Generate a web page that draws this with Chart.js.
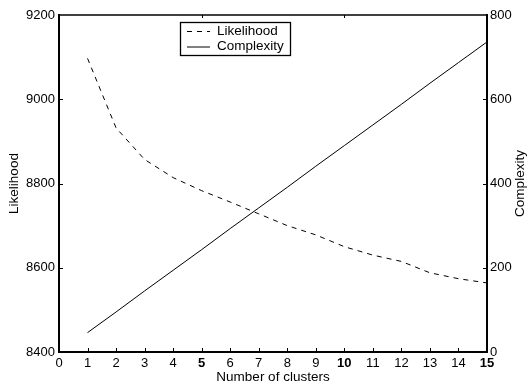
<!DOCTYPE html>
<html>
<head>
<meta charset="utf-8">
<script src="https://cdn.jsdelivr.net/npm/chart.js@4.4.0/dist/chart.umd.min.js"></script>
<style>
    html, body { margin: 0; padding: 0; background: #fff; }
    #wrap { width: 530px; height: 383px; }
</style>
</head>
<body>
<div id="wrap"><canvas id="chart" width="530" height="383"></canvas></div>
<script>
// ============= Data =============
const clusters = [1, 2, 3, 4, 5, 6, 7, 8, 9, 10, 11, 12, 13, 14, 15];
const likelihood = [9097, 8932, 8857, 8814, 8783, 8756, 8728, 8700, 8678, 8650, 8630, 8615, 8588, 8574, 8564];
const complexity = [46, 95, 145, 194, 243, 293, 342, 391, 441, 490, 539, 588, 638, 687, 736];
const xTicks = [0, 1, 2, 3, 4, 5, 6, 7, 8, 9, 10, 11, 12, 13, 14, 15];
const boldTicks = [5, 10, 15];
const topTicks = [5, 10];
const likelihoodTicks = [8400, 8600, 8800, 9000, 9200];
const complexityTicks = [0, 200, 400, 600, 800];

const FONT = '"Liberation Sans", Arial, Helvetica, sans-serif';
Chart.defaults.font.family = FONT;
Chart.defaults.color = '#000';

// Inward tick marks, top frame line, legend box and right-hand title
const framePlugin = {
    id: 'frame',
    afterDraw(chart) {
        const ctx = chart.ctx;
        const area = chart.chartArea;
        const x = chart.scales.x, y = chart.scales.y, y1 = chart.scales.y1;
        ctx.save();
        ctx.strokeStyle = '#000';

        // top frame
        ctx.lineWidth = 1.5;
        ctx.beginPath();
        ctx.moveTo(area.left, area.top);
        ctx.lineTo(area.right, area.top);
        ctx.stroke();

        ctx.lineWidth = 1;
        ctx.beginPath();
        xTicks.slice(1, -1).forEach(v => {
            const px = Math.round(x.getPixelForValue(v)) + 0.5;
            ctx.moveTo(px, area.bottom);
            ctx.lineTo(px, area.bottom - 4);
        });
        topTicks.forEach(v => {
            const px = Math.round(x.getPixelForValue(v)) + 0.5;
            ctx.moveTo(px, area.top);
            ctx.lineTo(px, area.top + 3);
        });
        likelihoodTicks.slice(1, -1).forEach(v => {
            const py = Math.round(y.getPixelForValue(v)) + 0.5;
            ctx.moveTo(area.left, py);
            ctx.lineTo(area.left + 4, py);
        });
        complexityTicks.slice(1, -1).forEach(v => {
            const py = Math.round(y1.getPixelForValue(v)) + 0.5;
            ctx.moveTo(area.right, py);
            ctx.lineTo(area.right - 4, py);
        });
        ctx.stroke();

        // legend
        ctx.fillStyle = '#fff';
        ctx.fillRect(180, 22, 111, 33);
        ctx.lineWidth = 1.3;
        ctx.strokeRect(180.5, 22.5, 110, 33);
        ctx.lineWidth = 1;
        ctx.fillStyle = '#000';
        ctx.font = '13.5px ' + FONT;
        ctx.textBaseline = 'middle';
        ctx.textAlign = 'left';
        chart.data.datasets.forEach((ds, i) => {
            const ly = 31 + i * 15.5;
            ctx.setLineDash(ds.borderDash || []);
            ctx.beginPath();
            ctx.moveTo(187, ly + 0.5);
            ctx.lineTo(210, ly + 0.5);
            ctx.stroke();
            ctx.setLineDash([]);
            ctx.fillText(ds.label, 217, ly);
        });

        // right axis title, reading upwards
        ctx.translate(520, (area.top + area.bottom) / 2);
        ctx.rotate(-Math.PI / 2);
        ctx.textAlign = 'center';
        ctx.fillText('Complexity', 0, 0);
        ctx.restore();
    }
};

const plain = v => String(v);

new Chart(document.getElementById('chart'), {
    type: 'line',
    data: {
        datasets: [{
            label: 'Likelihood',
            data: clusters.map((c, i) => ({ x: c, y: likelihood[i] })),
            yAxisID: 'y',
            borderColor: '#000',
            borderWidth: 1,
            borderDash: [5, 5],
            pointRadius: 0,
            tension: 0
        }, {
            label: 'Complexity',
            data: clusters.map((c, i) => ({ x: c, y: complexity[i] })),
            yAxisID: 'y1',
            borderColor: '#000',
            borderWidth: 1,
            pointRadius: 0,
            tension: 0
        }]
    },
    options: {
        responsive: false,
        devicePixelRatio: 1,
        animation: false,
        layout: { padding: { top: 15, left: 0, right: 0, bottom: 0 } },
        plugins: { legend: { display: false }, tooltip: { enabled: false } },
        scales: {
            x: {
                type: 'linear',
                min: 0,
                max: 15,
                afterBuildTicks: s => { s.ticks = xTicks.map(v => ({ value: v })); },
                afterFit: s => { s.height = 31; },
                grid: { display: false, drawTicks: false },
                border: { display: true, color: '#000', width: 2 },
                ticks: {
                    autoSkip: false,
                    maxRotation: 0,
                    padding: 4,
                    color: '#000',
                    callback: plain,
                    font: c => ({ size: 13, weight: boldTicks.includes(c.tick && c.tick.value) ? 'bold' : 'normal' })
                },
                title: {
                    display: true,
                    text: 'Number of clusters',
                    color: '#000',
                    font: { size: 13.5, lineHeight: 0.8 },
                    padding: 0
                }
            },
            y: {
                position: 'left',
                min: 8400,
                max: 9200,
                afterBuildTicks: s => { s.ticks = likelihoodTicks.map(v => ({ value: v })); },
                afterFit: s => { s.width = 59; },
                grid: { display: false, drawTicks: false },
                border: { display: true, color: '#000', width: 2 },
                ticks: { padding: 4, color: '#000', font: { size: 13 }, callback: plain },
                title: {
                    display: true,
                    text: 'Likelihood',
                    color: '#000',
                    font: { size: 13.5, lineHeight: 1.2 },
                    padding: { top: 6, bottom: 0 }
                }
            },
            y1: {
                position: 'right',
                min: 0,
                max: 800,
                afterBuildTicks: s => { s.ticks = complexityTicks.map(v => ({ value: v })); },
                afterFit: s => { s.width = 43; },
                grid: { display: false, drawTicks: false },
                border: { display: true, color: '#000', width: 2 },
                ticks: { padding: 3, color: '#000', font: { size: 13 }, callback: plain }
            }
        }
    },
    plugins: [framePlugin]
});
</script>
</body>
</html>
